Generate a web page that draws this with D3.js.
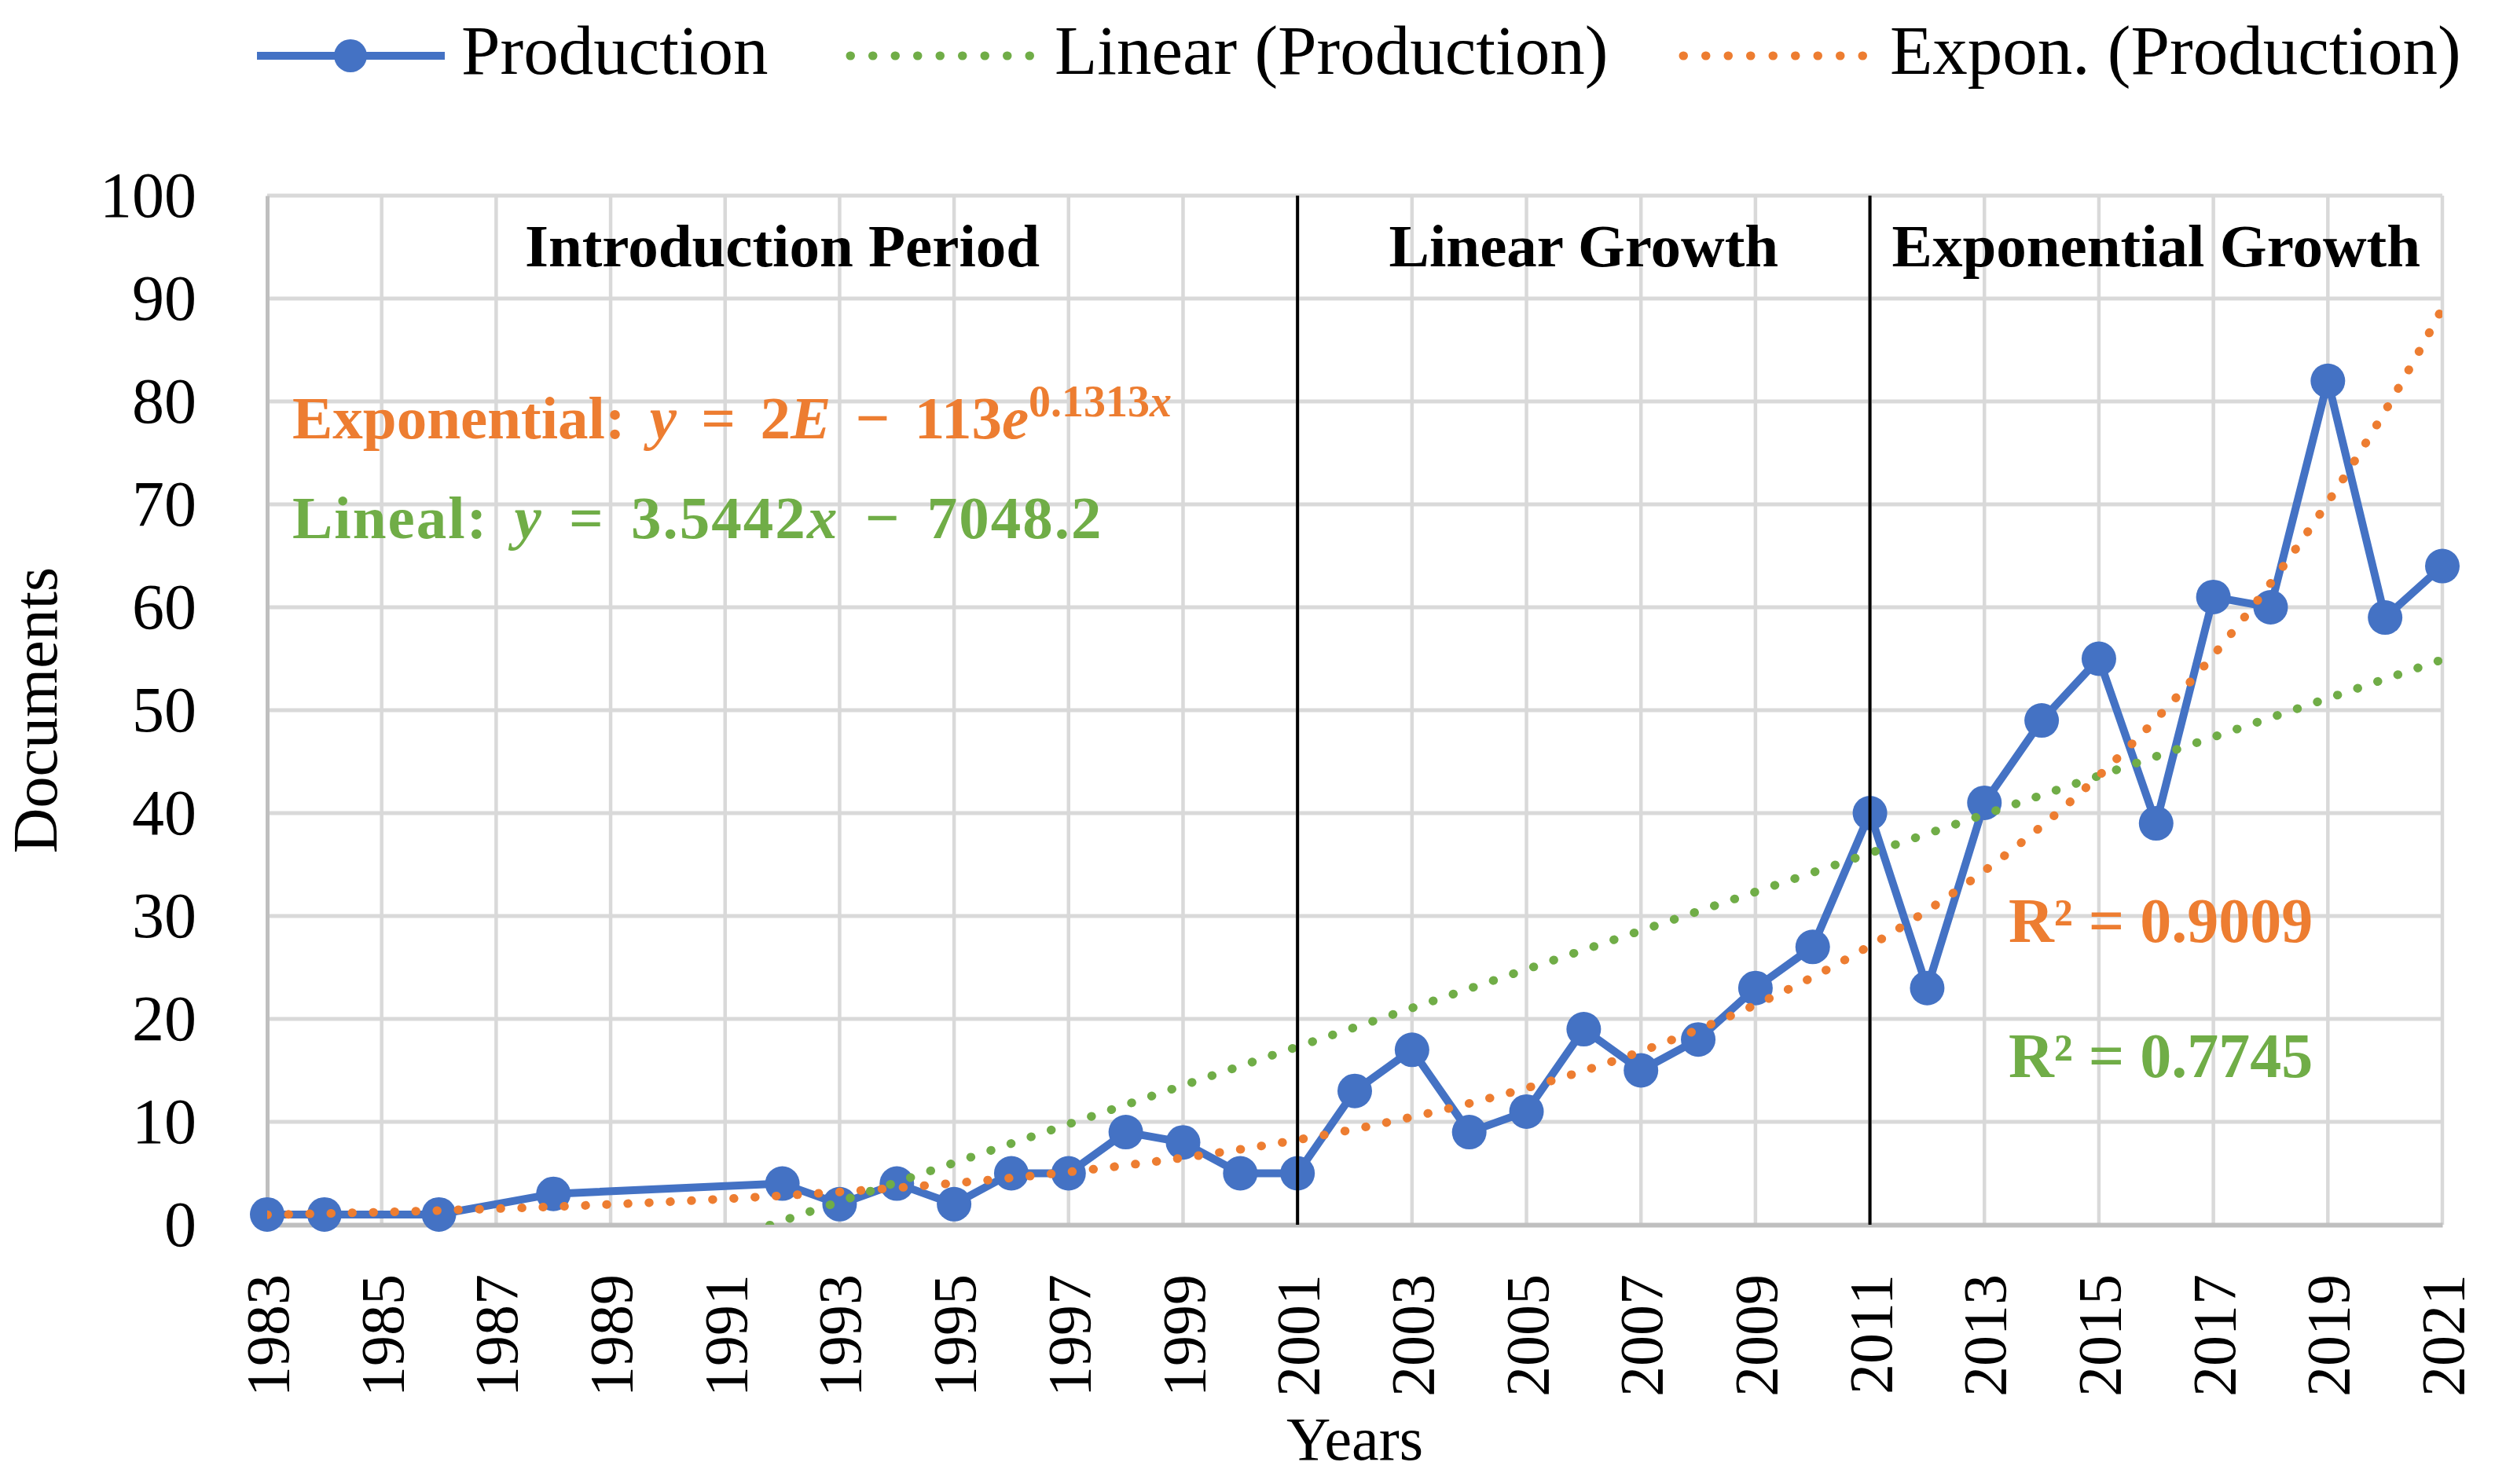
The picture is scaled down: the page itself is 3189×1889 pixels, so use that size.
<!DOCTYPE html>
<html>
<head>
<meta charset="utf-8">
<script src="https://cdnjs.cloudflare.com/ajax/libs/d3/7.8.5/d3.min.js"></script>
<style>
    body { margin: 0; background: #fff; }
    text { font-family: "Liberation Serif", "Times New Roman", serif; }
</style>
</head>
<body>
<div id="chart"></div>
<script>
// data
var years = [1983, 1984, 1986, 1988,
    1992, 1993, 1994, 1995, 1996, 1997, 1998, 1999, 2000, 2001,
    2002, 2003, 2004, 2005, 2006, 2007, 2008, 2009, 2010,
    2011, 2012, 2013, 2014, 2015, 2016, 2017, 2018, 2019, 2020, 2021];
var documents = [1, 1, 1, 3,
    4, 2, 4, 2, 5, 5, 9, 8, 5, 5,
    13, 17, 9, 11, 19, 15, 18, 23, 27,
    40, 23, 41, 49, 55, 39, 61, 60, 82, 59, 64];
var yTicks = [0, 10, 20, 30, 40, 50, 60, 70, 80, 90, 100];
var xTicks = [1983, 1985, 1987, 1989, 1991, 1993, 1995, 1997, 1999, 2001,
    2003, 2005, 2007, 2009, 2011, 2013, 2015, 2017, 2019, 2021];
var periodNames = ["Introduction Period", "Linear Growth", "Exponential Growth"];
var periodBounds = [1983, 2001, 2011, 2021];
var legendNames = ["Production", "Linear (Production)", "Expon. (Production)"];
var r2Labels = ["R² = 0.9009", "R² = 0.7745"];

ProductionChart = {
    w : 3189,
    h : 1889,
    blue : "#4472C4",
    green : "#70AD47",
    orange : "#ED7D31",
    grid : "#D9D9D9",
    svg : null,
    init : function(divName) {
        d3.selectAll(divName + " svg").remove(); // clean
        this.svg = d3.select(divName)
            .append("svg")
            .attr("width", this.w)
            .attr("height", this.h);
        this.svg.append("rect")
            .attr("width", this.w)
            .attr("height", this.h)
            .attr("fill", "#fff");

        this.x = d3.scaleLinear().domain([1983, 2021]).range([340, 3108]);
        this.y = d3.scaleLinear().domain([0, 100]).range([1559, 249]);

        this.drawGrid();
        this.drawAxes();
        this.drawSeries();
        this.drawTrends();
        this.drawPeriods();
        this.drawLabels();
        this.drawLegend();
        return this;
    },

    drawGrid : function() {
        var x = this.x, y = this.y;
        var g = this.svg.append("g").attr("class", "grid");

        g.selectAll("line.h")
            .data(yTicks.slice(1))
            .enter().append("line")
            .attr("x1", x.range()[0]).attr("x2", x.range()[1])
            .attr("y1", function(d) { return y(d); })
            .attr("y2", function(d) { return y(d); })
            .attr("stroke", this.grid)
            .attr("stroke-width", 5);

        g.selectAll("line.v")
            .data(xTicks.slice(1))
            .enter().append("line")
            .attr("x1", function(d) { return x(d); })
            .attr("x2", function(d) { return x(d); })
            .attr("y1", y.range()[0]).attr("y2", y.range()[1])
            .attr("stroke", this.grid)
            .attr("stroke-width", 4.5);
    },

    drawAxes : function() {
        var x = this.x, y = this.y;

        // left axis
        var left = this.svg.append("g")
            .attr("transform", "translate(" + x.range()[0] + ",0)")
            .call(d3.axisLeft(y).tickValues(yTicks).tickSize(0).tickPadding(90));
        left.select(".domain").attr("stroke", "#BFBFBF").attr("stroke-width", 5);
        left.selectAll("text")
            .attr("font-size", 82)
            .attr("fill", "#000")
            .style("font-family", "Liberation Serif");

        // bottom axis, rotated year labels
        var bottom = this.svg.append("g")
            .attr("transform", "translate(0," + y.range()[0] + ")")
            .call(d3.axisBottom(x).tickValues(xTicks).tickFormat(d3.format("d")).tickSize(0));
        bottom.select(".domain").attr("stroke", "#BFBFBF").attr("stroke-width", 6);
        bottom.selectAll("text")
            .attr("font-size", 78)
            .attr("fill", "#000")
            .style("font-family", "Liberation Serif")
            .attr("text-anchor", "end")
            .attr("transform", "rotate(-90)")
            .attr("x", -63)
            .attr("y", 0)
            .attr("dy", "0.34em");

        // axis titles
        this.svg.append("text")
            .attr("transform", "translate(72," + d3.mean(y.range()) + ") rotate(-90)")
            .attr("text-anchor", "middle")
            .attr("font-size", 80)
            .text("Documents");
        this.svg.append("text")
            .attr("x", d3.mean(x.range()))
            .attr("y", 1858)
            .attr("text-anchor", "middle")
            .attr("font-size", 78)
            .text("Years");
    },

    drawSeries : function() {
        var x = this.x, y = this.y;
        var pts = years.map(function(yr, i) { return [yr, documents[i]]; });

        this.svg.append("path")
            .datum(pts)
            .attr("fill", "none")
            .attr("stroke", this.blue)
            .attr("stroke-width", 10)
            .attr("stroke-linejoin", "round")
            .attr("d", d3.line()
                .x(function(d) { return x(d[0]); })
                .y(function(d) { return y(d[1]); }));

        this.svg.selectAll("circle.pt")
            .data(pts)
            .enter().append("circle")
            .attr("cx", function(d) { return x(d[0]); })
            .attr("cy", function(d) { return y(d[1]); })
            .attr("r", 22)
            .attr("fill", this.blue);
    },

    drawTrends : function() {
        var x = this.x, y = this.y;

        // least squares fits of the series, as the spreadsheet trendlines do
        var mx = d3.mean(years);
        var my = d3.mean(documents);
        var logs = documents.map(function(v) { return Math.log(v); });
        var ml = d3.mean(logs);
        var sxx = 0, sxy = 0, sxl = 0;
        years.forEach(function(yr, i) {
            sxx += (yr - mx) * (yr - mx);
            sxy += (yr - mx) * (documents[i] - my);
            sxl += (yr - mx) * (logs[i] - ml);
        });
        var slope = sxy / sxx, icpt = my - slope * mx;
        var k = sxl / sxx, lna = ml - k * mx;

        this.svg.append("clipPath").attr("id", "plotclip")
            .append("rect")
            .attr("x", x.range()[0]).attr("y", y.range()[1])
            .attr("width", x.range()[1] - x.range()[0])
            .attr("height", y.range()[0] - y.range()[1]);

        var steps = d3.range(1983, 2021.001, 0.25);
        var line = d3.line()
            .x(function(d) { return x(d[0]); })
            .y(function(d) { return y(d[1]); });

        var g = this.svg.append("g").attr("clip-path", "url(#plotclip)");

        g.append("path")
            .datum(steps.map(function(t) { return [t, slope * t + icpt]; }))
            .attr("fill", "none")
            .attr("stroke", this.green)
            .attr("stroke-width", 11)
            .attr("stroke-linecap", "round")
            .attr("stroke-dasharray", "0.5 26.5")
            .attr("d", line);

        g.append("path")
            .datum(steps.map(function(t) { return [t, Math.exp(lna + k * t)]; }))
            .attr("fill", "none")
            .attr("stroke", this.orange)
            .attr("stroke-width", 11)
            .attr("stroke-linecap", "round")
            .attr("stroke-dasharray", "0.5 26.5")
            .attr("d", line);
    },

    drawPeriods : function() {
        var x = this.x, y = this.y;

        // black separators between periods
        this.svg.selectAll("line.sep")
            .data(periodBounds.slice(1, 3))
            .enter().append("line")
            .attr("x1", function(d) { return x(d); })
            .attr("x2", function(d) { return x(d); })
            .attr("y1", y.range()[0]).attr("y2", y.range()[1])
            .attr("stroke", "#000")
            .attr("stroke-width", 4);

        this.svg.selectAll("text.period")
            .data(periodNames)
            .enter().append("text")
            .attr("x", function(d, i) { return (x(periodBounds[i]) + x(periodBounds[i + 1])) / 2; })
            .attr("y", 339)
            .attr("text-anchor", "middle")
            .attr("font-size", 77)
            .attr("font-weight", "bold")
            .text(function(d) { return d; });
    },

    drawLabels : function() {
        // trendline equations
        var ex = this.svg.append("text")
            .attr("x", 372).attr("y", 558)
            .attr("font-size", 77)
            .attr("font-weight", "bold")
            .attr("word-spacing", 12)
            .attr("fill", this.orange);
        ex.append("tspan").text("Exponential: ");
        ex.append("tspan").attr("font-style", "italic").text("y");
        ex.append("tspan").text(" = 2");
        ex.append("tspan").attr("font-style", "italic").text("E");
        ex.append("tspan").text(" − 113");
        ex.append("tspan").attr("font-style", "italic").text("e");
        ex.append("tspan").attr("dy", -28).attr("font-size", 56).text("0.1313");
        ex.append("tspan").attr("font-size", 56).attr("font-style", "italic").text("x");

        var li = this.svg.append("text")
            .attr("x", 372).attr("y", 685)
            .attr("font-size", 77)
            .attr("font-weight", "bold")
            .attr("word-spacing", 12)
            .attr("letter-spacing", 2)
            .attr("fill", this.green);
        li.append("tspan").text("Lineal: ");
        li.append("tspan").attr("font-style", "italic").text("y");
        li.append("tspan").text(" = 3.5442");
        li.append("tspan").attr("font-style", "italic").text("x");
        li.append("tspan").text(" − 7048.2");

        // R squared
        var self = this;
        this.svg.selectAll("text.r2")
            .data(r2Labels)
            .enter().append("text")
            .attr("x", 2556)
            .attr("y", function(d, i) { return [1199, 1371][i]; })
            .attr("font-size", 80)
            .attr("font-weight", "bold")
            .attr("fill", function(d, i) { return i ? self.green : self.orange; })
            .text(function(d) { return d; });
    },

    drawLegend : function() {
        var g = this.svg.append("g").attr("class", "legend");
        var cy = 71;

        g.append("line")
            .attr("x1", 327).attr("x2", 566)
            .attr("y1", cy).attr("y2", cy)
            .attr("stroke", this.blue).attr("stroke-width", 10);
        g.append("circle")
            .attr("cx", 446).attr("cy", cy).attr("r", 21)
            .attr("fill", this.blue);

        g.append("line")
            .attr("x1", 1082).attr("x2", 1311)
            .attr("y1", cy).attr("y2", cy)
            .attr("stroke", this.green).attr("stroke-width", 11)
            .attr("stroke-linecap", "round").attr("stroke-dasharray", "0.5 28");

        g.append("line")
            .attr("x1", 2142).attr("x2", 2371)
            .attr("y1", cy).attr("y2", cy)
            .attr("stroke", this.orange).attr("stroke-width", 11)
            .attr("stroke-linecap", "round").attr("stroke-dasharray", "0.5 28");

        g.selectAll("text")
            .data(legendNames)
            .enter().append("text")
            .attr("x", function(d, i) { return [587, 1342, 2405][i]; })
            .attr("y", 94)
            .attr("font-size", 89)
            .text(function(d) { return d; });
    }
};

ProductionChart.init("#chart");
</script>
</body>
</html>
